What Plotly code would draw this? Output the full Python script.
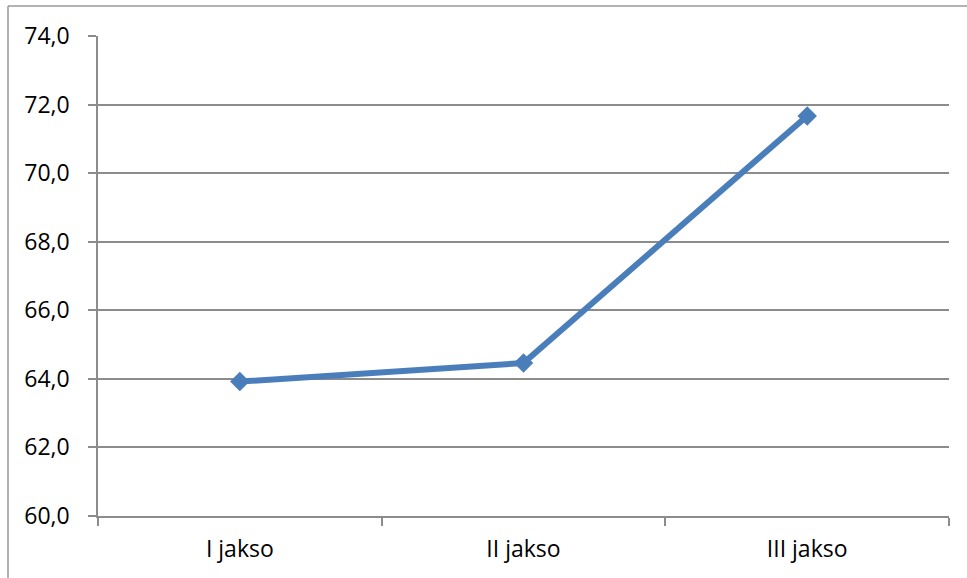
import plotly.graph_objects as go

categories = ["I jakso", "II jakso", "III jakso"]
values = [63.92, 64.46, 71.67]
y_ticks = [60, 62, 64, 66, 68, 70, 72, 74]

W, H = 967, 578
L, R, T, B = 98, 18, 36, 62
pw, ph = W - L - R, H - T - B

fig = go.Figure()
fig.add_trace(go.Scatter(
    x=categories, y=values, mode="lines+markers",
    line=dict(color="#4A7EBB", width=6),
    marker=dict(symbol="diamond", size=15, color="#4A7EBB"),
    cliponaxis=False,
))

grid = "#8c8c8c"
font = dict(family="Open Sans, Liberation Sans, sans-serif", size=23, color="#000000")

# outer chart frame (top and left edges visible)
fx = (8 - L) / pw
fy = 1 + (T - 6) / ph
fig.add_shape(type="line", xref="paper", yref="paper", x0=fx, x1=1 + (R + 5) / pw, y0=fy, y1=fy,
              line=dict(color="#9a9a9a", width=1.5), layer="below")
fig.add_shape(type="line", xref="paper", yref="paper", x0=fx, x1=fx, y0=fy, y1=-(B + 5) / ph,
              line=dict(color="#9a9a9a", width=1.5), layer="below")

fig.update_layout(
    width=W, height=H,
    margin=dict(l=L, r=R, t=T, b=B),
    paper_bgcolor="white", plot_bgcolor="white",
    separators=", ",
    showlegend=False,
    font=font,
)
fig.update_xaxes(
    type="category", range=[-0.5, len(categories) - 0.5],
    showgrid=False, showline=True, linecolor=grid, linewidth=1.5,
    ticks="outside", tickson="boundaries", ticklen=8, tickcolor=grid, tickwidth=1.5,
    ticklabelstandoff=12, tickfont=font, zeroline=False,
)
fig.update_yaxes(
    range=[60, 74], tickvals=y_ticks, tickformat=".1f",
    showgrid=True, gridcolor=grid, gridwidth=1.5,
    showline=True, linecolor=grid, linewidth=1.5,
    ticks="outside", ticklen=8, tickcolor=grid, tickwidth=1.5,
    ticklabelstandoff=14, tickfont=font, zeroline=False,
)

fig.write_html("out.html")
